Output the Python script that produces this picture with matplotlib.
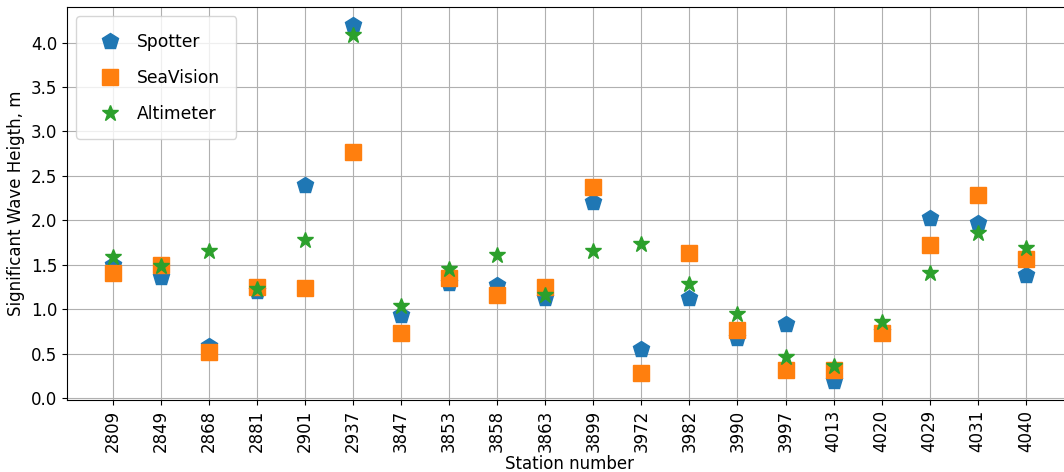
import numpy as np
import matplotlib.pyplot as plt

stations = ['2809', '2849', '2868', '2881', '2901', '2937', '3847', '3853', '3858', '3863',
            '3899', '3972', '3982', '3990', '3997', '4013', '4020', '4029', '4031', '4040']
spotter = [1.50, 1.36, 0.58, 1.20, 2.40, 4.20, 0.93, 1.30, 1.27, 1.12,
           2.21, 0.55, 1.13, 0.67, 0.83, 0.19, 0.74, 2.03, 1.97, 1.38]
seavision = [1.41, 1.50, 0.52, 1.25, 1.24, 2.77, 0.73, 1.35, 1.16, 1.25,
             2.37, 0.28, 1.63, 0.76, 0.31, 0.32, 0.73, 1.72, 2.29, 1.57]
altimeter = [1.59, 1.49, 1.66, 1.23, 1.78, 4.09, 1.04, 1.45, 1.61, 1.16,
             1.65, 1.73, 1.28, 0.94, 0.46, 0.36, 0.85, 1.41, 1.86, 1.69]

x = np.arange(len(stations))

fig = plt.figure(figsize=(10.64, 4.72), dpi=100)
ax = fig.add_axes([0.063, 0.153, 0.944, 0.832])

ax.plot(x, spotter, 'p', color='#1f77b4', markersize=12, label='Spotter')
ax.plot(x, seavision, 's', color='#ff7f0e', markersize=11, label='SeaVision')
ax.plot(x, altimeter, '*', color='#2ca02c', markersize=12, label='Altimeter')

ax.set_xticks(x)
ax.set_xticklabels(stations, rotation=90, fontsize=12)
ax.tick_params(axis='y', labelsize=12)
ax.set_xlim(-0.95, 19.95)
ax.set_ylim(-0.02, 4.40)
ax.set_yticks(np.arange(0, 4.1, 0.5))
ax.set_xlabel('Station number', fontsize=12, labelpad=2)
ax.set_ylabel('Significant Wave Heigth, m', fontsize=12)
ax.grid(True)
ax.legend(loc='upper left', fontsize=12.3, labelspacing=1.05, borderpad=0.95,
          handletextpad=0.6, borderaxespad=0.55)

fig.savefig('out.png', dpi=100)
